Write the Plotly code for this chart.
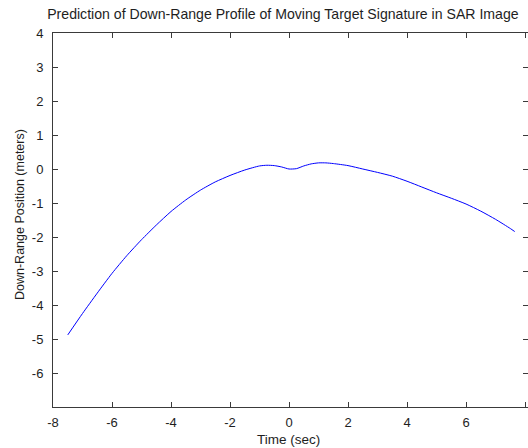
import plotly.graph_objects as go

# Down-range profile of the moving target signature (time in s, position in m)
time_sec = [-7.5, -7.0, -6.5, -6.0, -5.5, -5.0, -4.5, -4.0, -3.5, -3.0,
            -2.5, -2.0, -1.5, -1.0, -0.75, -0.5, -0.25, 0.0, 0.25, 0.5,
            0.75, 1.0, 1.25, 1.5, 2.0, 2.5, 3.0, 3.5, 4.0, 4.5,
            5.0, 5.5, 6.0, 6.5, 7.0, 7.5, 7.65]
down_range_m = [-4.88, -4.25, -3.65, -3.07, -2.55, -2.08, -1.65, -1.25, -0.91, -0.62,
                -0.38, -0.19, -0.03, 0.09, 0.11, 0.10, 0.06, 0.0, 0.01, 0.09,
                0.15, 0.18, 0.18, 0.16, 0.10, 0.0, -0.10, -0.21, -0.36, -0.53,
                -0.70, -0.86, -1.03, -1.24, -1.48, -1.75, -1.84]

x_ticks = [-8, -6, -4, -2, 0, 2, 4, 6, 8]
y_ticks = [-6, -5, -4, -3, -2, -1, 0, 1, 2, 3, 4]
# plain hyphen-minus labels
x_tick_text = [str(v) for v in x_ticks]
y_tick_text = [str(v) for v in y_ticks]

FONT = "Liberation Sans, Arial, Helvetica, sans-serif"
AXIS_COLOR = "#3a3a3a"
TEXT_COLOR = "#1e1e1e"

fig = go.Figure()
fig.add_trace(go.Scatter(
    x=time_sec, y=down_range_m, mode="lines",
    line=dict(color="#0000ff", width=1, shape="spline", smoothing=0.6),
    hoverinfo="skip", showlegend=False,
))

axis_common = dict(
    showline=True, linecolor=AXIS_COLOR, linewidth=1,
    mirror="ticks", ticks="inside", ticklen=5, tickwidth=1,
    tickcolor=AXIS_COLOR, showgrid=False, zeroline=False,
    tickfont=dict(family=FONT, size=13, color=TEXT_COLOR),
)

fig.update_layout(
    width=528, height=448,
    margin=dict(l=53, r=0, t=33, b=41),
    paper_bgcolor="white", plot_bgcolor="white",
    xaxis=dict(range=[-8, 8.1], tickvals=x_ticks, ticktext=x_tick_text,
               ticklabelstandoff=3, **axis_common),
    yaxis=dict(range=[-7, 4], tickvals=y_ticks, ticktext=y_tick_text,
               ticklabelstandoff=6, **axis_common),
    title=dict(
        text="Prediction of Down-Range Profile of Moving Target Signature in SAR Image",
        font=dict(family=FONT, size=14.1, color=TEXT_COLOR),
        xref="paper", x=0.484, xanchor="center",
        yref="container", y=1 - 14 / 448, yanchor="middle",
    ),
    annotations=[
        dict(text="Time (sec)", xref="paper", yref="paper",
             x=(288 - 53) / 475, y=-(440 - 407) / 374,
             xanchor="center", yanchor="middle", showarrow=False,
             font=dict(family=FONT, size=13.5, color=TEXT_COLOR)),
        dict(text="Down-Range Position (meters)", xref="paper", yref="paper",
             x=-(53 - 20) / 475, y=(407 - 215) / 374, textangle=-90,
             xanchor="center", yanchor="middle", showarrow=False,
             font=dict(family=FONT, size=12.5, color=TEXT_COLOR)),
    ],
)

fig.write_html("out.html")
